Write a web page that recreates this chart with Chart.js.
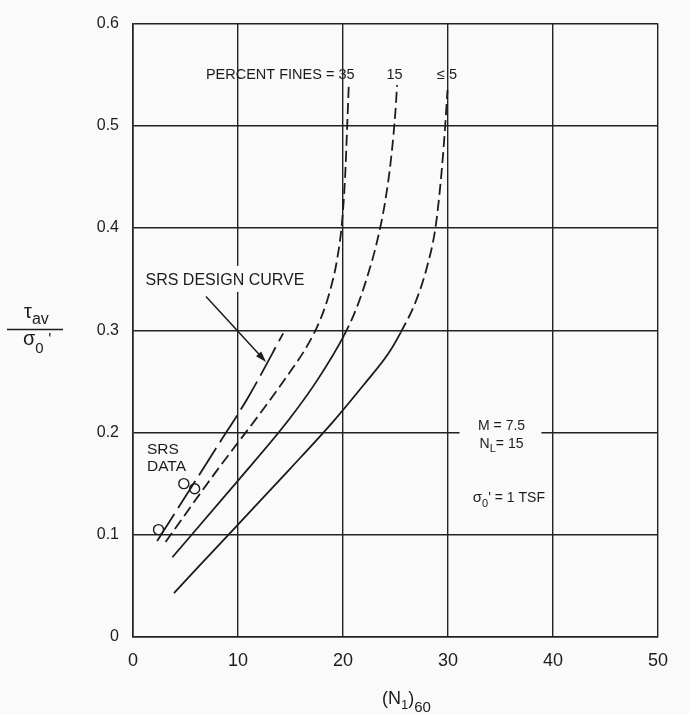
<!DOCTYPE html>
<html>
<head>
<meta charset="utf-8">
<script src="https://cdn.jsdelivr.net/npm/chart.js@4.4.1/dist/chart.umd.min.js"></script>
<style>
  html, body { margin: 0; padding: 0; background: #fafafa; }
  #wrap { position: relative; width: 689px; height: 715px; }
</style>
</head>
<body>
<div id="wrap"><canvas id="c" width="689" height="715"></canvas></div>
<script>
// ejes
const xTicks = [0, 10, 20, 30, 40, 50];
const yTicks = [0, 0.1, 0.2, 0.3, 0.4, 0.5, 0.6];
const yTickLabels = ["0", "0.1", "0.2", "0.3", "0.4", "0.5", "0.6"];

// curva de diseño SRS (raya larga)
const srsDesignN = [2.3, 8.0, 11.0, 14.3];
const srsDesignRatio = [0.094, 0.186, 0.235, 0.297];

// finos = 35 % (discontinua)
const fines35N = [3.1, 8.0, 12.2, 14.8, 16.6, 17.9, 18.8, 19.45, 19.9, 20.2, 20.4, 20.55];
const fines35Ratio = [0.093, 0.163, 0.220, 0.257, 0.285, 0.312, 0.340, 0.370, 0.405, 0.450, 0.500, 0.540];

// finos = 15 % (continua y luego discontinua desde el índice 4)
const fines15N = [3.75, 10.0, 14.8, 17.6, 20.1, 21.3, 22.3, 23.2, 24.0, 24.6, 25.0, 25.15];
const fines15Ratio = [0.078, 0.153, 0.212, 0.252, 0.295, 0.322, 0.352, 0.385, 0.425, 0.470, 0.515, 0.540];

// finos <= 5 % (continua y luego discontinua desde el índice 6)
const fines5N = [3.9, 10.0, 15.0, 19.0, 22.0, 24.3, 25.5, 27.0, 28.0, 28.8, 29.3, 29.7, 29.95];
const fines5Ratio = [0.043, 0.110, 0.165, 0.210, 0.247, 0.277, 0.298, 0.330, 0.362, 0.400, 0.445, 0.495, 0.535];

// datos SRS (círculos)
const srsDataN = [2.43, 4.84, 5.87];
const srsDataRatio = [0.105, 0.150, 0.145];

// flecha hacia la curva de diseño
const arrowFrom = [6.95, 0.333];
const arrowTo = [12.67, 0.269];

const FAM = '"Liberation Sans", Arial, Helvetica, sans-serif';
const INK = "#1c1c1c";
const FONDO = "#fafafa";

function puntos(xs, ys) {
  return xs.map((x, i) => ({ x: x, y: ys[i] }));
}

function fuente(size) {
  return size + "px " + FAM;
}

// dibuja un texto compuesto (con subíndices) sobre la línea base y
function tramos(ctx, partes, x, y, align) {
  let total = 0;
  partes.forEach(p => {
    ctx.font = fuente(p.s);
    p.w = ctx.measureText(p.t).width;
    total += p.w;
  });
  let cx = x;
  if (align === "center") cx = x - total / 2;
  if (align === "right") cx = x - total;
  ctx.textAlign = "left";
  ctx.textBaseline = "alphabetic";
  partes.forEach(p => {
    ctx.font = fuente(p.s);
    ctx.fillText(p.t, cx, y + (p.dy || 0));
    cx += p.w;
  });
  return total;
}

const anotaciones = {
  id: "anotaciones",
  beforeDatasetsDraw(chart) {
    const ctx = chart.ctx;
    const sx = chart.scales.x, sy = chart.scales.y;
    ctx.save();
    ctx.fillStyle = FONDO;
    // hueco en la rejilla tras "M = 7.5 / NL = 15"
    const x0 = sx.getPixelForValue(31.1), x1 = sx.getPixelForValue(38.9);
    const y0 = sy.getPixelForValue(0.222), y1 = sy.getPixelForValue(0.178);
    ctx.fillRect(x0, y0, x1 - x0, y1 - y0);
    // hueco tras "SRS DESIGN CURVE"
    ctx.font = fuente(16);
    const w = ctx.measureText("SRS DESIGN CURVE").width;
    const lx = sx.getPixelForValue(1.19), ly = sy.getPixelForValue(0.3503);
    ctx.fillRect(lx - 3, ly - 13, w + 6, 26);
    ctx.restore();
  },
  afterDatasetsDraw(chart) {
    const ctx = chart.ctx;
    const sx = chart.scales.x, sy = chart.scales.y;
    const px = v => sx.getPixelForValue(v);
    const py = v => sy.getPixelForValue(v);
    ctx.save();
    ctx.fillStyle = INK;
    ctx.strokeStyle = INK;

    // etiquetas de las curvas
    tramos(ctx, [{ t: "PERCENT FINES = 35", s: 14.5 }], px(21.1), py(0.551) + 5.2, "right");
    tramos(ctx, [{ t: "15", s: 14.5 }], px(24.9), py(0.551) + 5.2, "center");
    tramos(ctx, [{ t: "\u2264 5", s: 14.5 }], px(29.9), py(0.551) + 5.2, "center");

    tramos(ctx, [{ t: "SRS DESIGN CURVE", s: 16 }], px(1.19), py(0.3503) + 5.8, "left");
    tramos(ctx, [{ t: "SRS", s: 15.5 }], px(1.33), py(0.1848) + 5.6, "left");
    tramos(ctx, [{ t: "DATA", s: 15.5 }], px(1.33), py(0.1674) + 5.6, "left");

    tramos(ctx, [{ t: "M = 7.5", s: 14 }], px(35.1), py(0.2071) + 5, "center");
    tramos(ctx, [{ t: "N", s: 14 }, { t: "L", s: 11, dy: 4 }, { t: "= 15", s: 14 }], px(35.1), py(0.1897) + 5, "center");
    tramos(ctx, [{ t: "\u03c3", s: 15 }, { t: "0", s: 11, dy: 5 }, { t: "' = 1 TSF", s: 14 }], px(35.8), py(0.1374) + 5, "center");

    // flecha
    const ax0 = px(arrowFrom[0]), ay0 = py(arrowFrom[1]);
    const ax1 = px(arrowTo[0]), ay1 = py(arrowTo[1]);
    const ang = Math.atan2(ay1 - ay0, ax1 - ax0);
    ctx.lineWidth = 1.5;
    ctx.beginPath();
    ctx.moveTo(ax0, ay0);
    ctx.lineTo(ax1 - 8 * Math.cos(ang), ay1 - 8 * Math.sin(ang));
    ctx.stroke();
    ctx.beginPath();
    ctx.moveTo(ax1, ay1);
    ctx.lineTo(ax1 - 11 * Math.cos(ang) + 3.5 * Math.sin(ang), ay1 - 11 * Math.sin(ang) - 3.5 * Math.cos(ang));
    ctx.lineTo(ax1 - 11 * Math.cos(ang) - 3.5 * Math.sin(ang), ay1 - 11 * Math.sin(ang) + 3.5 * Math.cos(ang));
    ctx.closePath();
    ctx.fill();

    // título del eje y: tau_av / sigma_0'
    tramos(ctx, [{ t: "\u03c4", s: 20 }, { t: "av", s: 16, dy: 6 }], 24, 318, "left");
    ctx.lineWidth = 1.5;
    ctx.beginPath();
    ctx.moveTo(7, 329.5);
    ctx.lineTo(63, 329.5);
    ctx.stroke();
    tramos(ctx, [{ t: "\u03c3", s: 20 }, { t: "0", s: 15, dy: 8 }, { t: " '", s: 16 }], 23, 345, "left");

    // título del eje x: (N1)60
    tramos(ctx, [{ t: "(N", s: 18 }, { t: "1", s: 13, dy: 5 }, { t: ")", s: 18 }, { t: "60", s: 15, dy: 8 }], 382, 704, "left");
    ctx.restore();
  }
};

const lineaBase = {
  showLine: true,
  pointRadius: 0,
  borderColor: INK,
  borderWidth: 1.8,
  fill: false,
  cubicInterpolationMode: "monotone"
};

new Chart(document.getElementById("c"), {
  type: "scatter",
  data: {
    datasets: [
      Object.assign({}, lineaBase, {
        label: "SRS design curve",
        data: puntos(srsDesignN, srsDesignRatio),
        borderDash: [32, 7]
      }),
      Object.assign({}, lineaBase, {
        label: "Percent fines = 35",
        data: puntos(fines35N, fines35Ratio),
        borderDash: [11, 5]
      }),
      Object.assign({}, lineaBase, {
        label: "Percent fines = 15",
        data: puntos(fines15N, fines15Ratio),
        segment: { borderDash: c => (c.p0DataIndex >= 4 ? [11, 5] : []) }
      }),
      Object.assign({}, lineaBase, {
        label: "Percent fines <= 5",
        data: puntos(fines5N, fines5Ratio),
        segment: { borderDash: c => (c.p0DataIndex >= 6 ? [11, 5] : []) }
      }),
      {
        label: "SRS data",
        data: puntos(srsDataN, srsDataRatio),
        showLine: false,
        pointStyle: "circle",
        pointRadius: 5,
        pointBorderWidth: 1.4,
        pointBorderColor: INK,
        pointBackgroundColor: "rgba(0,0,0,0)"
      }
    ]
  },
  options: {
    responsive: false,
    animation: false,
    devicePixelRatio: 1,
    layout: { padding: { top: 17, right: 31, left: 0, bottom: 0 } },
    plugins: {
      legend: { display: false },
      tooltip: { enabled: false }
    },
    scales: {
      x: {
        type: "linear",
        min: 0,
        max: 50,
        afterBuildTicks: s => { s.ticks = xTicks.map(v => ({ value: v })); },
        afterFit: s => { s.height = 78; },
        grid: { color: "#222", lineWidth: 1.4, drawTicks: false },
        border: { color: "#222", width: 1.6 },
        ticks: {
          color: INK,
          font: { family: FAM, size: 18 },
          padding: 13,
          maxRotation: 0,
          callback: v => String(v)
        }
      },
      y: {
        type: "linear",
        min: 0,
        max: 0.6,
        afterBuildTicks: s => { s.ticks = yTicks.map(v => ({ value: v })); },
        afterFit: s => { s.width = 133; },
        grid: { color: "#222", lineWidth: 1.4, drawTicks: false },
        border: { color: "#222", width: 1.6 },
        ticks: {
          color: INK,
          font: { family: FAM, size: 16 },
          padding: 14,
          callback: (v, i) => yTickLabels[i]
        }
      }
    }
  },
  plugins: [anotaciones]
});
</script>
</body>
</html>
